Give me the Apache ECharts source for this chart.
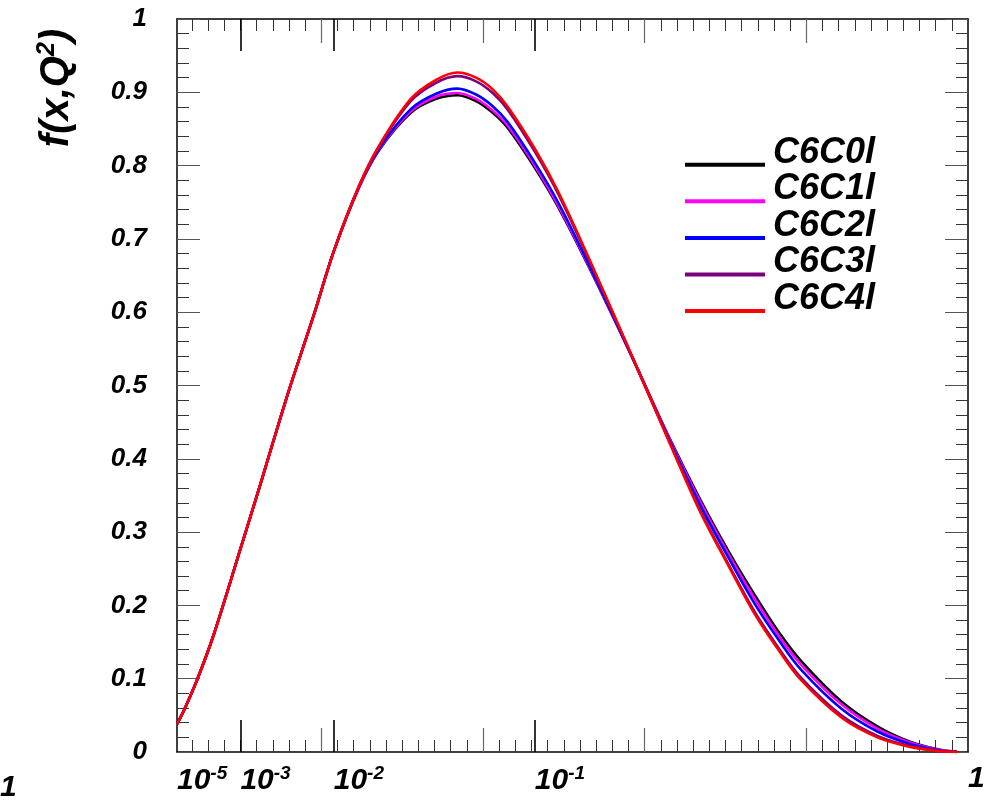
<!DOCTYPE html>
<html><head><meta charset="utf-8">
<script src="https://cdn.jsdelivr.net/npm/echarts@6/dist/echarts.min.js"></script>
<style>html,body{margin:0;padding:0;background:#fff}#c{width:993px;height:803px}</style>
</head><body><div id="c"></div>
<script>
// x values (Bjorken x); the horizontal axis is linear in x^(1/3)
const xValues = [0.00001, 0.00003, 0.0001, 0.0003, 0.001, 0.002, 0.004, 0.007, 0.01, 0.015, 0.02, 0.03, 0.04, 0.05, 0.06, 0.07, 0.08, 0.1, 0.12, 0.15, 0.2, 0.25, 0.3, 0.35, 0.4, 0.45, 0.5, 0.6, 0.7, 0.8, 0.9, 0.95, 0.96];
const seriesNames = ['C6C0l', 'C6C1l', 'C6C2l', 'C6C3l', 'C6C4l'];
const seriesColors = ['#000000', '#ff00ff', '#0000ff', '#7f007f', '#ff0000'];
const fC6C0l = [0.038, 0.059, 0.0985, 0.160, 0.277, 0.370, 0.489, 0.598, 0.683, 0.770, 0.821, 0.872, 0.891, 0.896, 0.888, 0.872, 0.851, 0.797, 0.743, 0.661, 0.538, 0.430, 0.343, 0.272, 0.213, 0.163, 0.124, 0.069, 0.035, 0.014, 0.003, 0.0005, 0];
const fC6C1l = [0.038, 0.059, 0.0985, 0.160, 0.277, 0.370, 0.489, 0.598, 0.683, 0.770, 0.822, 0.874, 0.894, 0.899, 0.891, 0.875, 0.854, 0.800, 0.745, 0.662, 0.538, 0.429, 0.340, 0.268, 0.208, 0.158, 0.119, 0.065, 0.032, 0.013, 0.0026, 0.0004, 0];
const fC6C2l = [0.038, 0.059, 0.0985, 0.160, 0.277, 0.370, 0.489, 0.598, 0.683, 0.771, 0.823, 0.877, 0.898, 0.905, 0.897, 0.881, 0.859, 0.804, 0.749, 0.664, 0.538, 0.427, 0.335, 0.263, 0.201, 0.152, 0.112, 0.059, 0.028, 0.011, 0.002, 0.0003, 0];
const fC6C3l = [0.038, 0.059, 0.0985, 0.160, 0.277, 0.370, 0.489, 0.598, 0.683, 0.772, 0.826, 0.888, 0.913, 0.922, 0.915, 0.899, 0.876, 0.819, 0.761, 0.671, 0.539, 0.425, 0.328, 0.254, 0.190, 0.141, 0.101, 0.050, 0.022, 0.008, 0.0012, 0.0002, 0];
const fC6C4l = [0.038, 0.059, 0.0985, 0.160, 0.277, 0.370, 0.489, 0.598, 0.683, 0.772, 0.827, 0.891, 0.917, 0.927, 0.920, 0.904, 0.880, 0.823, 0.764, 0.673, 0.539, 0.424, 0.326, 0.252, 0.187, 0.138, 0.098, 0.047, 0.020, 0.007, 0.001, 0.0002, 0];
const xLabelValues = [0.00001, 0.001, 0.01, 0.1, 1];
const xLabelBases = ['10', '10', '10', '10', '1'];
const xLabelExps = ['-5', '-3', '-2', '-1', ''];
const yTitle = 'f(x,Q';
const xMin = 0.00001, xMax = 1;

const FONT = '"Liberation Sans", Arial, Helvetica, sans-serif';
const tr = v => Math.cbrt(v);
const allY = [fC6C0l, fC6C1l, fC6C2l, fC6C3l, fC6C4l];
const tMin = tr(xMin), tMax = tr(xMax);

const minorTicks = [];
for (let k = 2; k < 50; k++) minorTicks.push(+(k * 0.02).toFixed(2));
const mediumTicks = [0.2, 0.4, 0.6, 0.8];
const decadeTicks = [0.001, 0.01, 0.1].map(tr);
const labelT = xLabelValues.map(tr);

function xAx(pos, ticks, len, color, width, withLine, withLabels) {
  const a = {
    type: 'value', gridIndex: 0, position: pos, min: tMin, max: tMax,
    axisLine: { show: withLine, onZero: false, lineStyle: { color: '#000', width: 1.5 } },
    axisTick: { show: true, inside: true, length: len, customValues: ticks, lineStyle: { color: color, width: width } },
    axisLabel: { show: false },
    splitLine: { show: false }
  };
  if (withLabels) {
    a.axisLabel = {
      show: true, customValues: labelT, align: 'left', margin: 12,
      showMinLabel: true, showMaxLabel: true, hideOverlap: false,
      formatter: function (v) {
        let i = 0, best = 1e9;
        labelT.forEach((t, j) => { if (Math.abs(t - v) < best) { best = Math.abs(t - v); i = j; } });
        return xLabelExps[i] ? '{b|' + xLabelBases[i] + '}{s|' + xLabelExps[i] + '}' : '{b|' + xLabelBases[i] + '}';
      },
      rich: {
        b: { fontFamily: FONT, fontSize: 30, fontWeight: 'bold', fontStyle: 'italic', color: '#000' },
        s: { fontFamily: FONT, fontSize: 19, fontWeight: 'bold', fontStyle: 'italic', color: '#000', padding: [0, 0, 14, 0] }
      }
    };
  }
  return a;
}

function yAx(pos) {
  return {
    type: 'value', gridIndex: 0, position: pos, min: 0, max: 1, interval: 0.1,
    axisLine: { show: true, onZero: false, lineStyle: { color: '#000', width: 1.5 } },
    axisTick: { show: true, inside: true, length: 23, lineStyle: { color: '#555', width: 1 } },
    minorTick: { show: true, splitNumber: 5, length: 12, lineStyle: { color: '#333', width: 1 } },
    axisLabel: pos === 'left' ? {
      show: true, margin: 30, fontFamily: FONT, fontSize: 26, fontWeight: 'bold', fontStyle: 'italic', color: '#000',
      showMinLabel: true, showMaxLabel: true,
      formatter: v => (Math.round(v * 10) / 10).toString()
    } : { show: false },
    splitLine: { show: false }, minorSplitLine: { show: false }
  };
}

const series = seriesNames.map((n, i) => ({
  name: n, type: 'line', xAxisIndex: 0, yAxisIndex: 0,
  data: xValues.map((x, j) => [tr(x), allY[i][j]]),
  showSymbol: false, smooth: 0.35, clip: true,
  lineStyle: { color: seriesColors[i], width: 2.6 },
  itemStyle: { color: seriesColors[i] },
  z: 2 + i
}));

const legendGraphics = [];
seriesNames.forEach((n, i) => {
  const yl = 164.7 + i * 36.6;
  legendGraphics.push({ type: 'line', shape: { x1: 685, y1: yl, x2: 765, y2: yl }, style: { stroke: seriesColors[i], lineWidth: 4 }, z: 10 });
  legendGraphics.push({ type: 'text', x: 773, y: yl - 12, style: { text: n, fontFamily: FONT, fontSize: 36, fontWeight: 'bold', fontStyle: 'italic', fill: '#000', align: 'left', verticalAlign: 'middle' }, z: 10 });
});

const chart = echarts.init(document.getElementById('c'), null, { renderer: 'canvas' });
chart.setOption({
  animation: false,
  backgroundColor: '#fff',
  grid: { left: 177, right: 25, top: 19, bottom: 51, containLabel: false, outerBoundsMode: 'none' },
  xAxis: [
    xAx('bottom', minorTicks, 12, '#333', 1, true, true),
    xAx('bottom', mediumTicks, 24, '#666', 1.2, false, false),
    xAx('bottom', decadeTicks, 32, '#000', 1.6, false, false),
    xAx('top', minorTicks, 12, '#333', 1, true, false),
    xAx('top', mediumTicks, 24, '#666', 1.2, false, false),
    xAx('top', decadeTicks, 32, '#000', 1.6, false, false)
  ],
  yAxis: [yAx('left'), yAx('right')],
  series: series,
  graphic: [
    ...legendGraphics,
    { type: 'text', x: 57, y: 88, rotation: Math.PI / 2,
      style: { text: '{a|' + yTitle + '}{s|2}{a|)}', align: 'center', verticalAlign: 'middle',
        rich: { a: { fontFamily: FONT, fontSize: 40, fontWeight: 'bold', fontStyle: 'italic', fill: '#000' },
                s: { fontFamily: FONT, fontSize: 25, fontWeight: 'bold', fontStyle: 'italic', fill: '#000', padding: [0, 0, 20, 0] } } } },
    { type: 'text', x: 0, y: 788, style: { text: '1', fontFamily: FONT, fontSize: 30, fontWeight: 'bold', fontStyle: 'italic', fill: '#000', align: 'left', verticalAlign: 'middle' } }
  ]
});
</script></body></html>
